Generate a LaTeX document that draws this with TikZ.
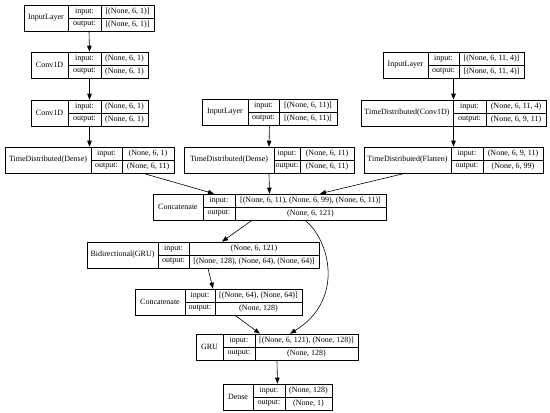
\documentclass[tikz,border=0pt]{standalone}
\usepackage{fontspec}
\setmainfont{Liberation Serif}
\usetikzlibrary{arrows.meta,fit}
\tikzset{
  boxline/.style={draw=black, line width=0.6pt},
  cell/.style={inner sep=0pt, font=\fontsize{8}{9}\selectfont},
  arr/.style={-{Triangle[length=6pt,width=4.5pt]}, line width=0.6pt, draw=black},
}
% #1 name, #2 left, #3 first divider, #4 second divider, #5 right, #6 top, #7 label, #8 input, #9 output
\newcommand\layerbox[9]{%
  \node[fit={(#2,#6) (#5,#6+26)}, inner sep=0pt, boxline] (#1) {};
  \draw[boxline] (#3,#6) -- (#3,#6+26) (#4,#6) -- (#4,#6+26) (#3,#6+13) -- (#5,#6+13);
  \node[cell] (#1-name) at ({(#2+#3)/2},{#6+13}) {#7};
  \node[cell] (#1-inl) at ({(#3+#4)/2},{#6+6.5}) {input:};
  \node[cell] (#1-outl) at ({(#3+#4)/2},{#6+19.5}) {output:};
  \node[cell] (#1-inv) at ({(#4+#5)/2},{#6+6.5}) {#8};
  \node[cell] (#1-outv) at ({(#4+#5)/2},{#6+19.5}) {#9};
}
\begin{document}
\begin{tikzpicture}[x=1pt,y=-1pt]
\fill[white] (0,0) rectangle (550,413);
\useasboundingbox (0,0) rectangle (550,413);

\layerbox{inA}{24}{68}{101}{154}{5}{InputLayer}{[(None, 6, 1)]}{[(None, 6, 1)]}
\layerbox{convA}{31}{68}{101}{148}{52}{Conv1D}{(None, 6, 1)}{(None, 6, 1)}
\layerbox{convB}{31}{68}{101}{148}{100}{Conv1D}{(None, 6, 1)}{(None, 6, 1)}
\layerbox{tdA}{5}{91}{122}{174}{147}{TimeDistributed(Dense)}{(None, 6, 1)}{(None, 6, 11)}

\layerbox{inB}{202}{248}{279}{337}{99}{InputLayer}{[(None, 6, 11)]}{[(None, 6, 11)]}
\layerbox{tdB}{184}{274}{300}{354}{147}{TimeDistributed(Dense)}{(None, 6, 11)}{(None, 6, 11)}

\layerbox{inC}{383}{428}{459}{524}{52}{InputLayer}{[(None, 6, 11, 4)]}{[(None, 6, 11, 4)]}
\layerbox{tdConv}{361}{453}{486}{546}{100}{TimeDistributed(Conv1D)}{(None, 6, 11, 4)}{(None, 6, 9, 11)}
\layerbox{tdFlat}{364}{451}{483}{543}{147}{TimeDistributed(Flatten)}{(None, 6, 9, 11)}{(None, 6, 99)}

\layerbox{catA}{153}{203}{235}{386}{194}{Concatenate}{[(None, 6, 11), (None, 6, 99), (None, 6, 11)]}{(None, 6, 121)}
\layerbox{bigru}{87}{158}{189}{319}{242}{Bidirectional(GRU)}{(None, 6, 121)}{[(None, 128), (None, 64), (None, 64)]}
\layerbox{catB}{135}{185}{215}{302}{289}{Concatenate}{[(None, 64), (None, 64)]}{(None, 128)}
\layerbox{gru}{196}{223}{255}{358}{334}{GRU}{[(None, 6, 121), (None, 128)]}{(None, 128)}
\layerbox{dense}{223}{253}{285}{332}{384}{Dense}{(None, 128)}{(None, 1)}

% connectors
\draw[arr] (inA.south) -- (convA.north);
\draw[arr] (convA.south) -- (convB.north);
\draw[arr] (convB.south) -- (tdA.north);
\draw[arr] (inB.south) -- (tdB.north);
\draw[arr] (inC.south) -- (tdConv.north);
\draw[arr] (tdConv.south) -- (tdFlat.north);
\draw[arr] ([xshift=53.5pt]tdA.south) -- ([xshift=-55.5pt]catA.north);
\draw[arr] (tdB.south) -- (catA.north);
\draw[arr] ([xshift=-48.5pt]tdFlat.south) -- ([xshift=50.5pt]catA.north);
\draw[arr] ([xshift=-17.5pt]catA.south) -- ([xshift=19pt]bigru.north);
\draw[arr] ([xshift=35.5pt]catA.south) .. controls (330,240) and (345,300) .. ([xshift=13pt]gru.north);
\draw[arr] ([xshift=5pt]bigru.south) -- ([xshift=-5.5pt]catB.north);
\draw[arr] ([xshift=16.5pt]catB.south) -- ([xshift=-17pt]gru.north);
\draw[arr] (gru.south) -- (dense.north);
\end{tikzpicture}
\end{document}
